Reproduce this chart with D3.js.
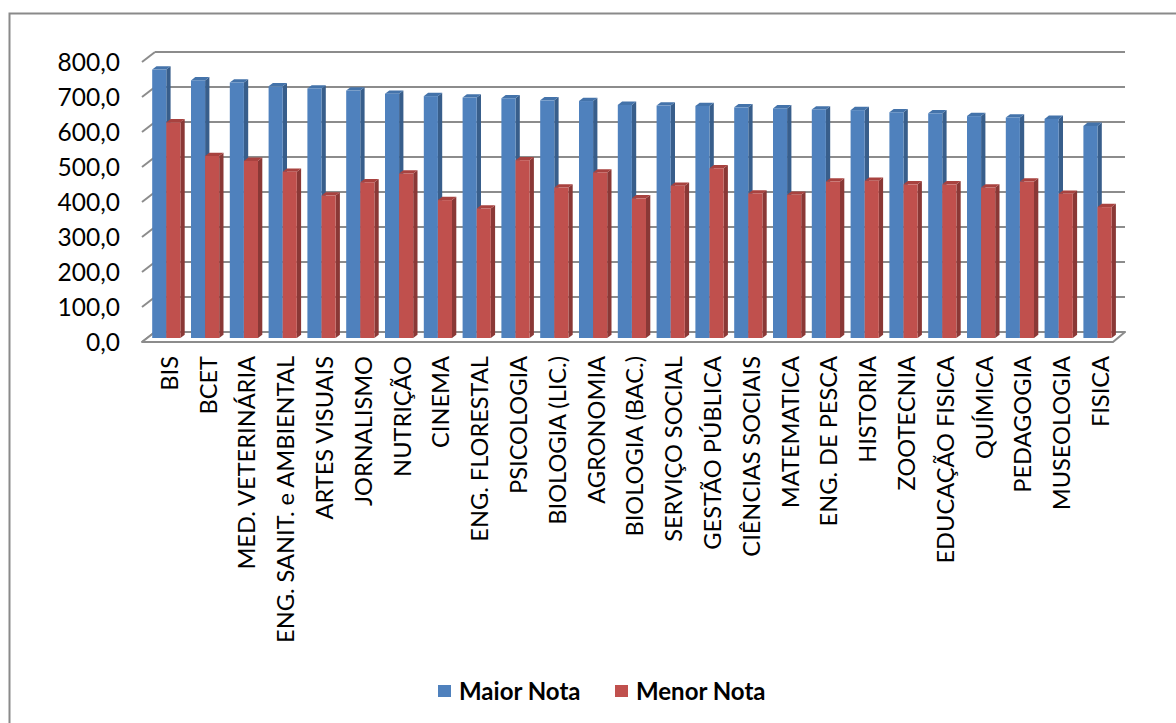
<!DOCTYPE html>
<html>
<head>
<meta charset="utf-8">
<script src="https://cdn.jsdelivr.net/npm/d3@7/dist/d3.min.js"></script>
<style>
  html, body { margin: 0; padding: 0; background: #fff; }
  svg { display: block; }
  text { font-family: Lato, "Open Sans", sans-serif; fill: #000; }
</style>
</head>
<body>
<svg id="chart" width="1176" height="723"></svg>
<script>
// Cursos e notas (maior e menor nota de ingresso)
const categories = [
  "BIS", "BCET", "MED. VETERINÁRIA", "ENG. SANIT. e AMBIENTAL", "ARTES VISUAIS",
  "JORNALISMO", "NUTRIÇÃO", "CINEMA", "ENG. FLORESTAL", "PSICOLOGIA",
  "BIOLOGIA (LIC.)", "AGRONOMIA", "BIOLOGIA (BAC.)", "SERVIÇO SOCIAL", "GESTÃO PÚBLICA",
  "CIÊNCIAS SOCIAIS", "MATEMATICA", "ENG. DE PESCA", "HISTORIA", "ZOOTECNIA",
  "EDUCAÇÃO FISICA", "QUÍMICA", "PEDAGOGIA", "MUSEOLOGIA", "FISICA"
];
const maiorNota = [
  767, 736, 730, 719, 713, 707, 698, 691, 687, 685,
  679, 677, 666, 664, 663, 659, 656, 653, 651, 645,
  642, 634, 630, 626, 606
];
const menorNota = [
  616, 520, 506, 475, 407, 445, 470, 394, 370, 508,
  430, 473, 399, 435, 485, 413, 409, 447, 449, 439,
  439, 430, 447, 412, 374
];
const seriesNames = ["Maior Nota", "Menor Nota"];
const yTicks = [0, 100, 200, 300, 400, 500, 600, 700, 800];

const palette = {
  "Maior Nota": { front: "#4f81bd", side: "#385e8b", top: "#4473aa" },
  "Menor Nota": { front: "#c0504d", side: "#8a3836", top: "#a8423f" }
};

const svg = d3.select("#chart");

// Outer chart frame (runs past the right and bottom edges)
svg.append("rect")
  .attr("x", 9.5).attr("y", 13.5)
  .attr("width", 1200).attr("height", 760)
  .attr("fill", "none").attr("stroke", "#8a8a8a").attr("stroke-width", 2);

// Oblique 3D projection: front plane, bar plane, back wall
const plotW = 970;
const depth = { dx: 12, dy: -10 };
const front = { x: 143, base: 342 };
const back = { x: front.x + depth.dx, base: front.base + depth.dy };
const barPlane = { x: front.x + depth.dx * 0.4, base: front.base + depth.dy * 0.4 };
const barDepth = { dx: 4.3, dy: -3.3 };

const v = d3.scaleLinear().domain([0, 800]).range([0, -280]);

const xBand = d3.scaleBand().domain(categories).range([0, plotW]).paddingInner(0).paddingOuter(0);
const xSeries = d3.scaleBand().domain(seriesNames).range([4.4, 4.4 + 28.2]).padding(0);

// Gridlines on the back wall and the left side wall
const grid = svg.append("g");
yTicks.forEach(t => {
  const yb = back.base + v(t);
  const yf = front.base + v(t);
  grid.append("line")
    .attr("x1", back.x).attr("x2", back.x + plotW)
    .attr("y1", yb).attr("y2", yb)
    .attr("stroke", "#8c8c8c").attr("stroke-width", 2);
  grid.append("line")
    .attr("x1", front.x - 1).attr("y1", yf)
    .attr("x2", back.x).attr("y2", yb)
    .attr("stroke", "#8c8c8c").attr("stroke-width", 2);
});

// Floor
const floorPts = [
  [front.x - 1, front.base], [front.x + plotW, front.base],
  [back.x + plotW, back.base], [back.x, back.base]
];
svg.append("polygon")
  .attr("points", floorPts.map(p => p.join(",")).join(" "))
  .attr("fill", "#ffffff").attr("stroke", "#8c8c8c").attr("stroke-width", 2)
  .attr("stroke-linejoin", "round");

// Y axis labels on the front plane
svg.append("g").selectAll("text")
  .data(yTicks).join("text")
  .attr("x", 120)
  .attr("y", d => front.base + v(d))
  .attr("dy", "0.36em")
  .attr("text-anchor", "end")
  .style("font-size", "24.5px")
  .text(d => d3.format(".1f")(d).replace(".", ","));

// 3D columns
const bars = svg.append("g");
const rows = [];
categories.forEach((c, i) => {
  rows.push({ cat: c, series: "Maior Nota", value: maiorNota[i] });
  rows.push({ cat: c, series: "Menor Nota", value: menorNota[i] });
});

rows.forEach(d => {
  const x0 = barPlane.x + xBand(d.cat) + xSeries(d.series);
  const w = xSeries.bandwidth();
  const yb = barPlane.base;
  const yt = barPlane.base + v(d.value);
  const c = palette[d.series];
  const g = bars.append("g");
  // right side face
  g.append("polygon")
    .attr("points", [
      [x0 + w, yt], [x0 + w + barDepth.dx, yt + barDepth.dy],
      [x0 + w + barDepth.dx, yb + barDepth.dy], [x0 + w, yb]
    ].map(p => p.join(",")).join(" "))
    .attr("fill", c.side);
  // top face
  g.append("polygon")
    .attr("points", [
      [x0, yt], [x0 + w, yt],
      [x0 + w + barDepth.dx, yt + barDepth.dy], [x0 + barDepth.dx, yt + barDepth.dy]
    ].map(p => p.join(",")).join(" "))
    .attr("fill", c.top);
  // front face
  g.append("rect")
    .attr("x", x0).attr("y", yt)
    .attr("width", w).attr("height", yb - yt)
    .attr("fill", c.front);
});

// Category labels, rotated
svg.append("g").selectAll("text")
  .data(categories).join("text")
  .attr("transform", d => {
    const cx = barPlane.x + xBand(d) + xBand.bandwidth() / 2 + 2;
    return `translate(${cx},356) rotate(-90)`;
  })
  .attr("dy", "0.36em")
  .attr("text-anchor", "end")
  .style("font-size", "23.6px")
  .text(d => d);

// Legend
const legend = svg.append("g").attr("transform", "translate(438,691)");
const legendX = [0, 177];
seriesNames.forEach((s, i) => {
  const g = legend.append("g").attr("transform", `translate(${legendX[i]},0)`);
  g.append("rect").attr("x", 0).attr("y", -6).attr("width", 13).attr("height", 12)
    .attr("fill", palette[s].front);
  g.append("text").attr("x", 21).attr("y", 0).attr("dy", "0.36em")
    .style("font-size", "24px").style("font-weight", "bold")
    .text(s);
});
</script>
</body>
</html>
